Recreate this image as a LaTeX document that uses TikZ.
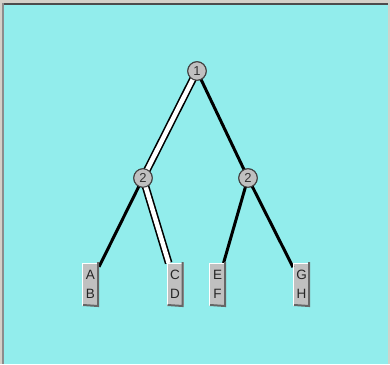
\documentclass[tikz,border=0pt]{standalone}
\usepackage{fontspec}
\setmainfont{Liberation Sans}
\begin{document}
\begin{tikzpicture}[x=1pt,y=-1pt,
  every node/.style={inner sep=0pt, outer sep=0pt},
  circ/.style={circle, draw=black!75, line width=1pt, fill=btn, minimum size=18.5pt, font=\fontsize{13}{13}\selectfont, text=black!80},
  leaf/.style={rectangle, fill=btn, minimum width=17pt, minimum height=42pt, align=center, font=\fontsize{13.5}{19}\selectfont, text=black!85},
  blk/.style={draw=black, line width=3pt},
  wht/.style={draw=black, line width=1.6pt, double=white, double distance=4.5pt}]
\definecolor{bg}{HTML}{92EDEC}
\definecolor{btn}{HTML}{C0C0C0}
\definecolor{frm}{HTML}{D4D0C8}
\useasboundingbox (0,0) rectangle (390,364);
\fill[bg] (0,0) rectangle (390,364);
\fill[frm] (0,0) rectangle (390,3);
\fill[black!70] (0,3) rectangle (390,5);
\fill[frm] (0,0) rectangle (1.5,364);
\fill[black!45] (1.5,3) rectangle (3.5,364);
\fill[frm] (388,0) rectangle (390,364);
% nodes
\node[circ] (r) at (197,71) {1};
\node[circ] (l2) at (143,178) {2};
\node[circ] (r2) at (248,178) {2};
\node[leaf] (ab) at (90.5,284) {A\\B};
\node[leaf] (cd) at (175,284) {C\\D};
\node[leaf] (ef) at (217.5,284) {E\\F};
\node[leaf] (gh) at (301.5,284) {G\\H};
% edges
\draw[wht] (r.center) -- (l2.center);
\draw[blk] (r.center) -- (r2.center);
\draw[blk] (l2.center) -- (ab);
\draw[wht] (l2.center) -- (cd);
\draw[blk] (r2.center) -- (ef);
\draw[blk] (r2.center) -- (gh);
% redraw circles on top
\node[circ] at (r) {1};
\node[circ] at (l2) {2};
\node[circ] at (r2) {2};
% bevels of leaf boxes
\foreach \n in {ab,cd,ef,gh}{
  \draw[white, line width=1pt] ([xshift=0.5pt,yshift=-0.5pt]\n.south west) |- ([xshift=-0.5pt,yshift=-0.5pt]\n.north east);
  \draw[black!60, line width=2pt] ([xshift=1pt]\n.south west) -- ([xshift=-1pt,yshift=-1pt]\n.south east) -- ([xshift=-1pt,yshift=1pt]\n.north east);
}
\end{tikzpicture}
\end{document}
